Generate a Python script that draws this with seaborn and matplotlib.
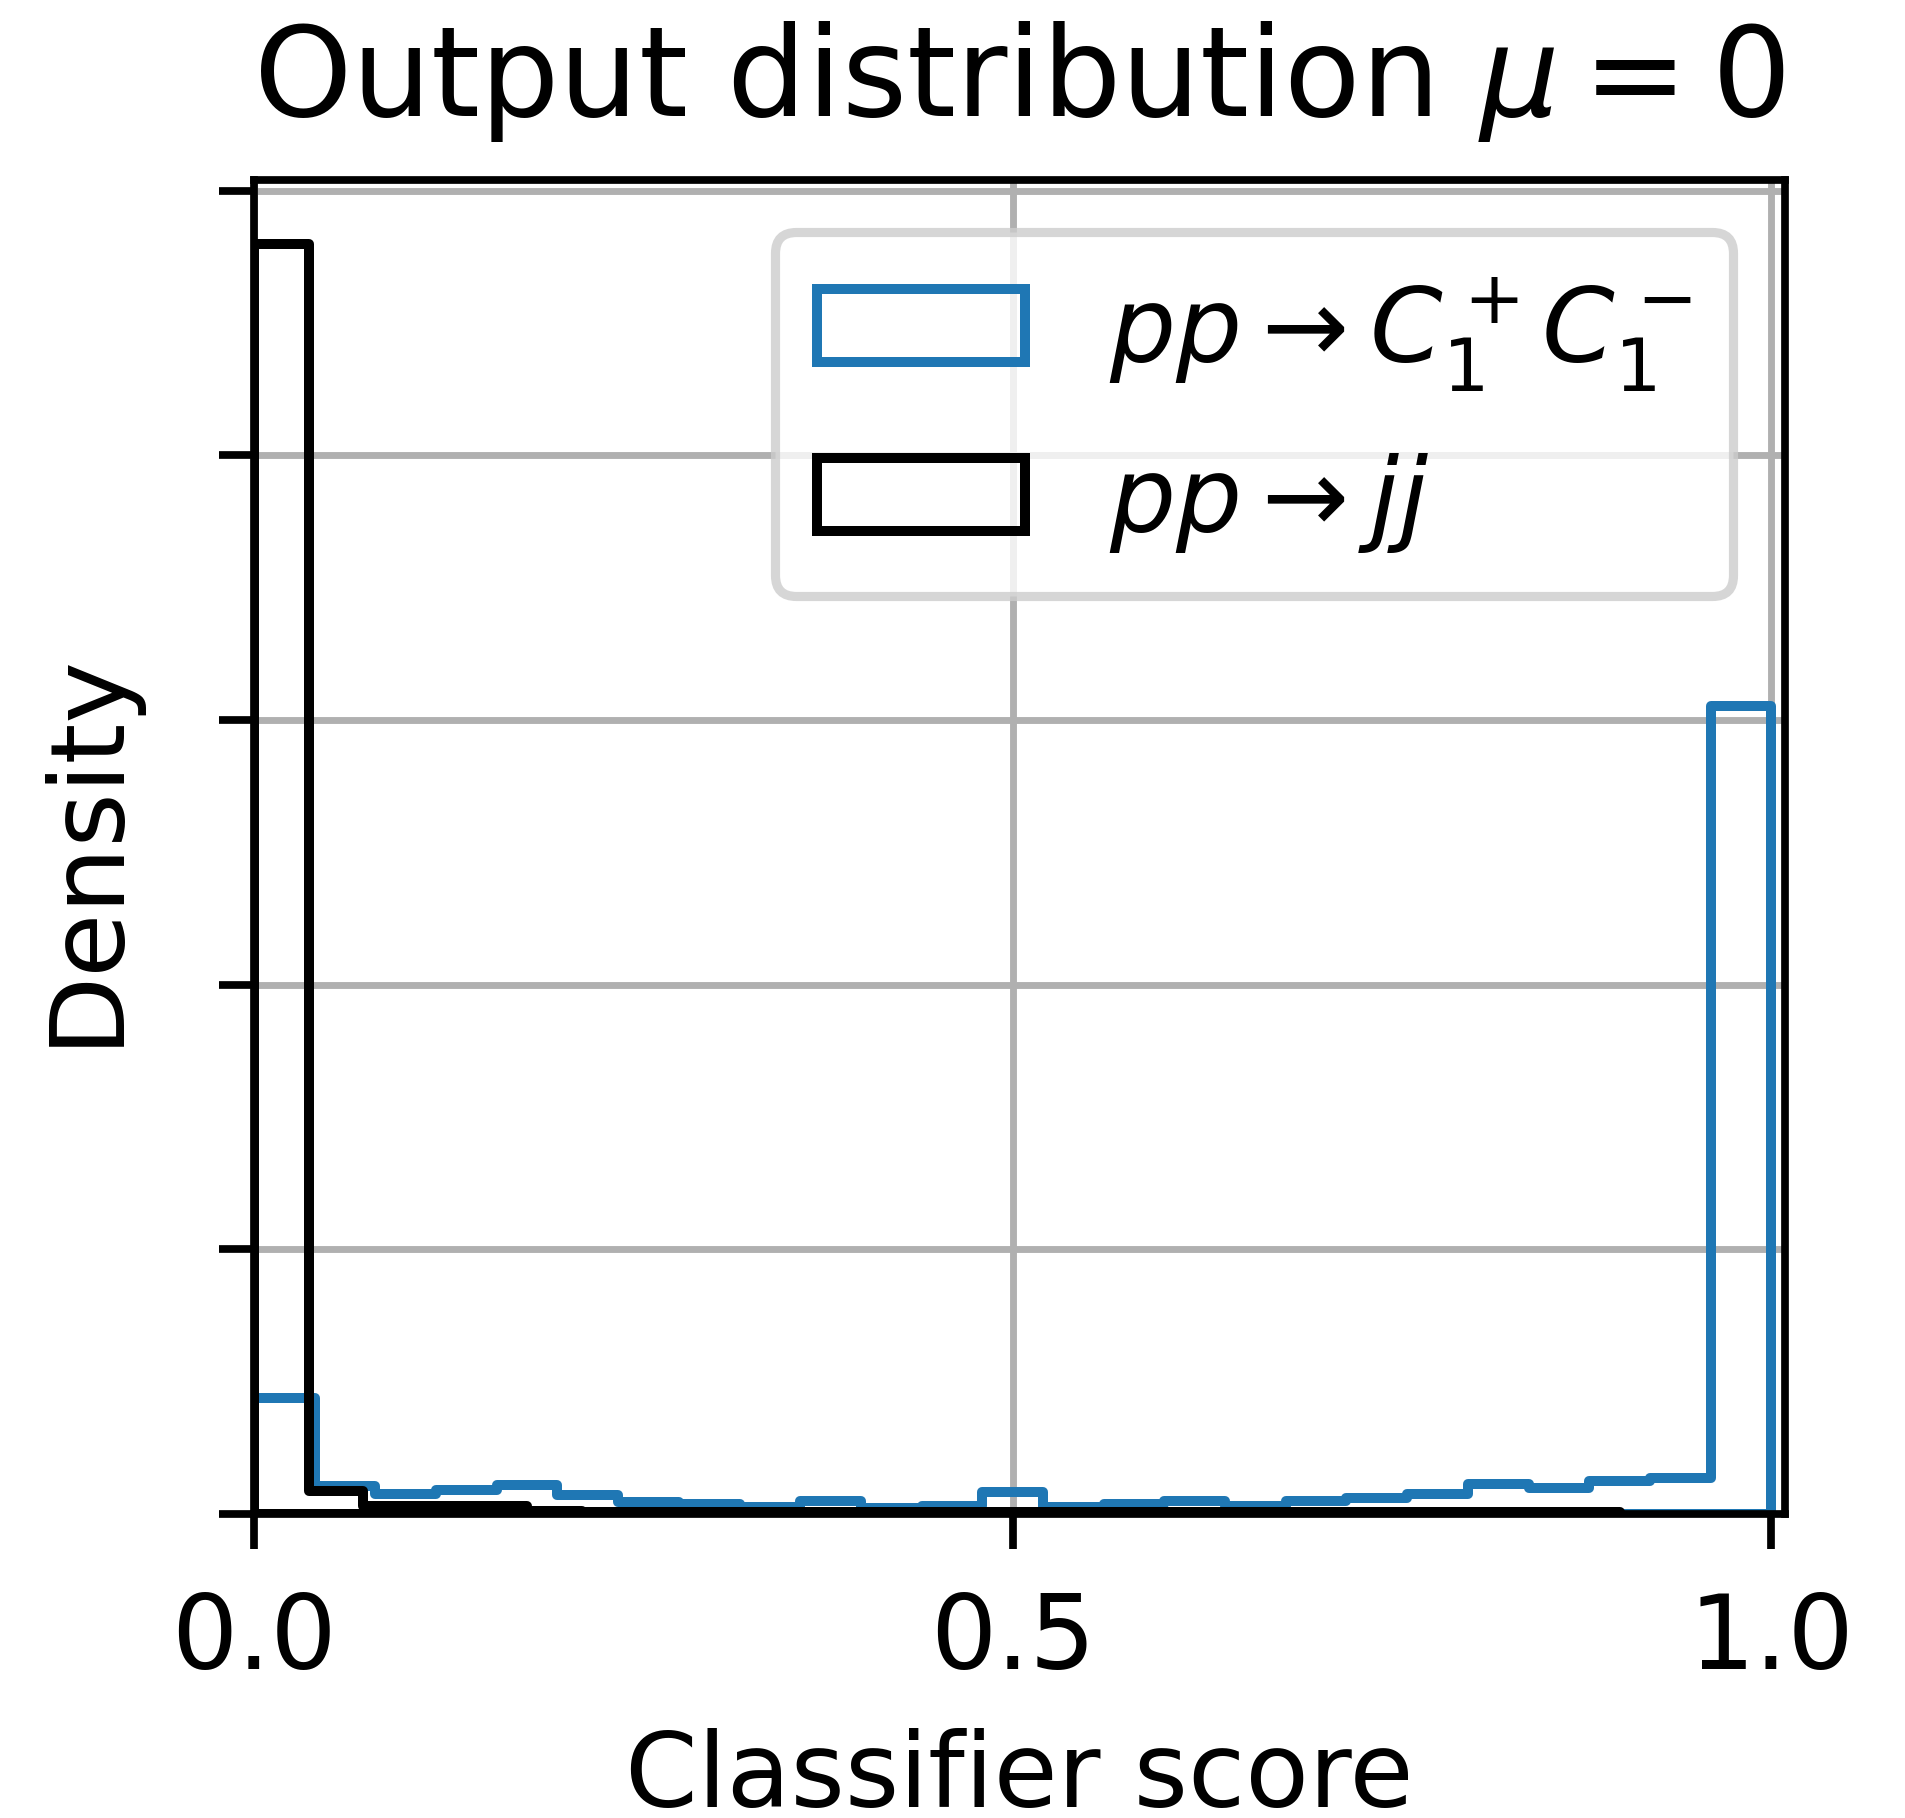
import numpy as np
import pandas as pd
import matplotlib
matplotlib.use("Agg")
import matplotlib.pyplot as plt
import seaborn as sns

# ---- data (density per bin) ----
signal_label = r"$pp \rightarrow C_1^+ C_1^-$"
background_label = r"$pp \rightarrow jj$"

# signal: 25 bins spanning [0, 1]
signal_range = (0.0, 1.0)
signal_heights = [2.19, 0.53, 0.37, 0.45, 0.55, 0.36, 0.235, 0.19, 0.13, 0.24,
                  0.11, 0.16, 0.41, 0.13, 0.18, 0.24, 0.16, 0.25, 0.31, 0.37,
                  0.56, 0.49, 0.62, 0.68, 15.27]

# background: 25 bins spanning [0, 0.9]
background_range = (0.0, 0.9)
background_heights = [24.0, 0.43, 0.16, 0.16, 0.16, 0.05, 0.04, 0.04, 0.03, 0.03,
                      0.03, 0.03, 0.03, 0.03, 0.03, 0.03, 0.03, 0.03, 0.03, 0.03,
                      0.03, 0.03, 0.03, 0.03, 0.03]

x_ticks = [0.0, 0.5, 1.0]
x_tick_labels = ["0.0", "0.5", "1.0"]
y_ticks = [0, 5, 10, 15, 20, 25]

title = r"Output distribution $\mu = 0$"
x_label = "Classifier score"
y_label = "Density"

signal_color = "#1f77b4"
background_color = "black"


def hist_frame(heights, rng):
    edges = np.linspace(rng[0], rng[1], len(heights) + 1)
    centers = 0.5 * (edges[:-1] + edges[1:])
    return pd.DataFrame({"score": centers, "h": heights}), [float(e) for e in edges]


sns.set_theme(style="ticks", rc={
    "axes.edgecolor": "black",
    "axes.labelcolor": "black",
    "text.color": "black",
    "xtick.color": "black",
    "ytick.color": "black",
    "axes.linewidth": 1.85,
    "axes.axisbelow": True,
})
plt.rcParams["font.family"] = ["DejaVu Sans"]
plt.rcParams["mathtext.fontset"] = "dejavusans"

fig = plt.figure(figsize=(6.35, 6.0633), dpi=300)
ax = fig.add_axes([0.13333, 0.16713, 0.93701 - 0.13333, 0.90049 - 0.16713])

sig_df, sig_edges = hist_frame(signal_heights, signal_range)
bkg_df, bkg_edges = hist_frame(background_heights, background_range)

sns.histplot(data=sig_df, x="score", weights="h", bins=sig_edges, stat="count",
             element="step", fill=True, color=signal_color, facecolor="none",
             edgecolor=signal_color, linewidth=2.4, label=signal_label, ax=ax)
sns.histplot(data=bkg_df, x="score", weights="h", bins=bkg_edges, stat="count",
             element="step", fill=True, color=background_color, facecolor="none",
             edgecolor=background_color, linewidth=2.4, label=background_label, ax=ax)

ax.set_xlim(0, 1.009)
ax.set_ylim(0, 25.2)
ax.set_xticks(x_ticks)
ax.set_xticklabels(x_tick_labels)
ax.set_yticks(y_ticks)
ax.set_yticklabels([])
ax.tick_params(axis="both", which="major", length=8.5, width=1.85,
               labelsize=25, pad=9.5, direction="out")
ax.grid(True, color="#b0b0b0", linewidth=1.65)

ax.set_title(title, fontsize=30, pad=15.5)
ax.set_xlabel(x_label, fontsize=25, labelpad=9)
ax.set_ylabel(y_label, fontsize=25)
ax.yaxis.set_label_coords(-0.0768, 0.5)

leg = ax.legend(loc="upper right", fontsize=25, frameon=True, fancybox=True,
                framealpha=0.8, edgecolor="0.8", labelspacing=0.55)
leg.get_frame().set_linewidth(2.2)

fig.savefig("out.png", dpi=300)
